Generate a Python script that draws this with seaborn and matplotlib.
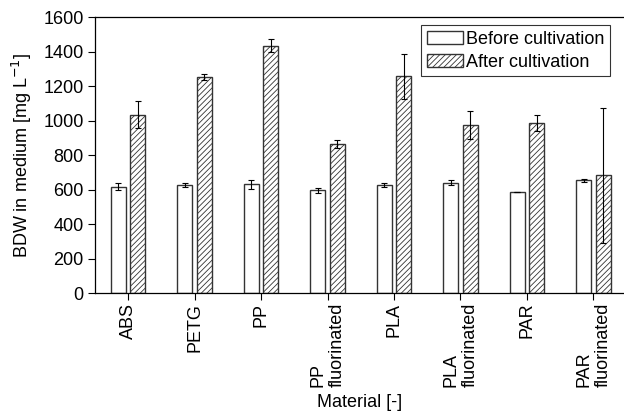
import numpy as np
import pandas as pd
import matplotlib
matplotlib.use("Agg")
import matplotlib.pyplot as plt
import seaborn as sns

# %%
materials = ["ABS", "PETG", "PP", "PP\nfluorinated", "PLA", "PLA\nfluorinated", "PAR", "PAR\nfluorinated"]
before = [618, 628, 632, 595, 628, 641, 584, 655]
before_err = [20, 13, 26, 15, 12, 17, 0, 8]
after = [1034, 1253, 1434, 864, 1256, 972, 985, 682]
after_err = [77, 20, 37, 22, 131, 81, 48, 391]
series = ["Before cultivation", "After cultivation"]

# %%
df = pd.DataFrame({
    "material": materials * 2,
    "bdw": before + after,
    "err": before_err + after_err,
    "phase": [series[0]] * len(materials) + [series[1]] * len(materials),
})

sns.set_style("ticks")
plt.rcParams["font.family"] = ["Liberation Sans", "DejaVu Sans"]
plt.rcParams["hatch.linewidth"] = 0.6
plt.rcParams["hatch.color"] = "#555555"
plt.rcParams["axes.unicode_minus"] = False
for key in ["text.color", "axes.labelcolor", "xtick.color", "ytick.color"]:
    plt.rcParams[key] = "black"

fs = 13

fig, ax = plt.subplots(figsize=(6.24, 4.17), dpi=100)
fig.subplots_adjust(left=0.152, right=0.999, top=0.959, bottom=0.297)

sns.barplot(data=df, x="material", y="bdw", hue="phase", hue_order=series,
            order=materials, errorbar=None, width=0.58, gap=0.22,
            palette=["white", "white"], edgecolor="#333333", linewidth=1.0,
            ax=ax, legend=True)

for k, (cont, errs) in enumerate(zip(ax.containers, [before_err, after_err])):
    xs = [b.get_x() + b.get_width() / 2 for b in cont]
    ys = [b.get_height() for b in cont]
    if k == 1:
        for b in cont:
            b.set_hatch("//////")
    ax.errorbar(xs, ys, yerr=errs, fmt="none", ecolor="black",
                elinewidth=0.8, capsize=2, capthick=0.8, zorder=5)

ax.set_ylim(0, 1600)
ax.set_yticks(np.arange(0, 1601, 200))
ax.set_xlim(-0.5, 7.45)
ax.tick_params(axis="both", labelsize=fs, length=5, width=0.8, color="black")
ax.tick_params(axis="x", pad=2)
ax.tick_params(axis="y", pad=3)
for lab in ax.get_xticklabels():
    lab.set_rotation(90)
    lab.set_multialignment("left")
ax.set_xlabel("Material [-]", fontsize=fs, labelpad=5)
ax.set_ylabel("BDW in medium [mg L$^{-1}$]", fontsize=fs, labelpad=7)

for side in ["left", "bottom", "top", "right"]:
    ax.spines[side].set_linewidth(0.9)
    ax.spines[side].set_color("black")
ax.spines["right"].set_visible(False)

h, l = ax.get_legend_handles_labels()
h[1].set_hatch("//////")
leg = ax.legend(h, l, loc="upper right", bbox_to_anchor=(0.985, 0.99),
                fontsize=fs, frameon=True, fancybox=False, handlelength=2.0,
                handleheight=0.7, handletextpad=0.2, borderpad=0.3,
                labelspacing=0.35, borderaxespad=0.3)
leg.get_frame().set_edgecolor("black")
leg.get_frame().set_linewidth(0.8)

fig.savefig("out.png", dpi=100)
